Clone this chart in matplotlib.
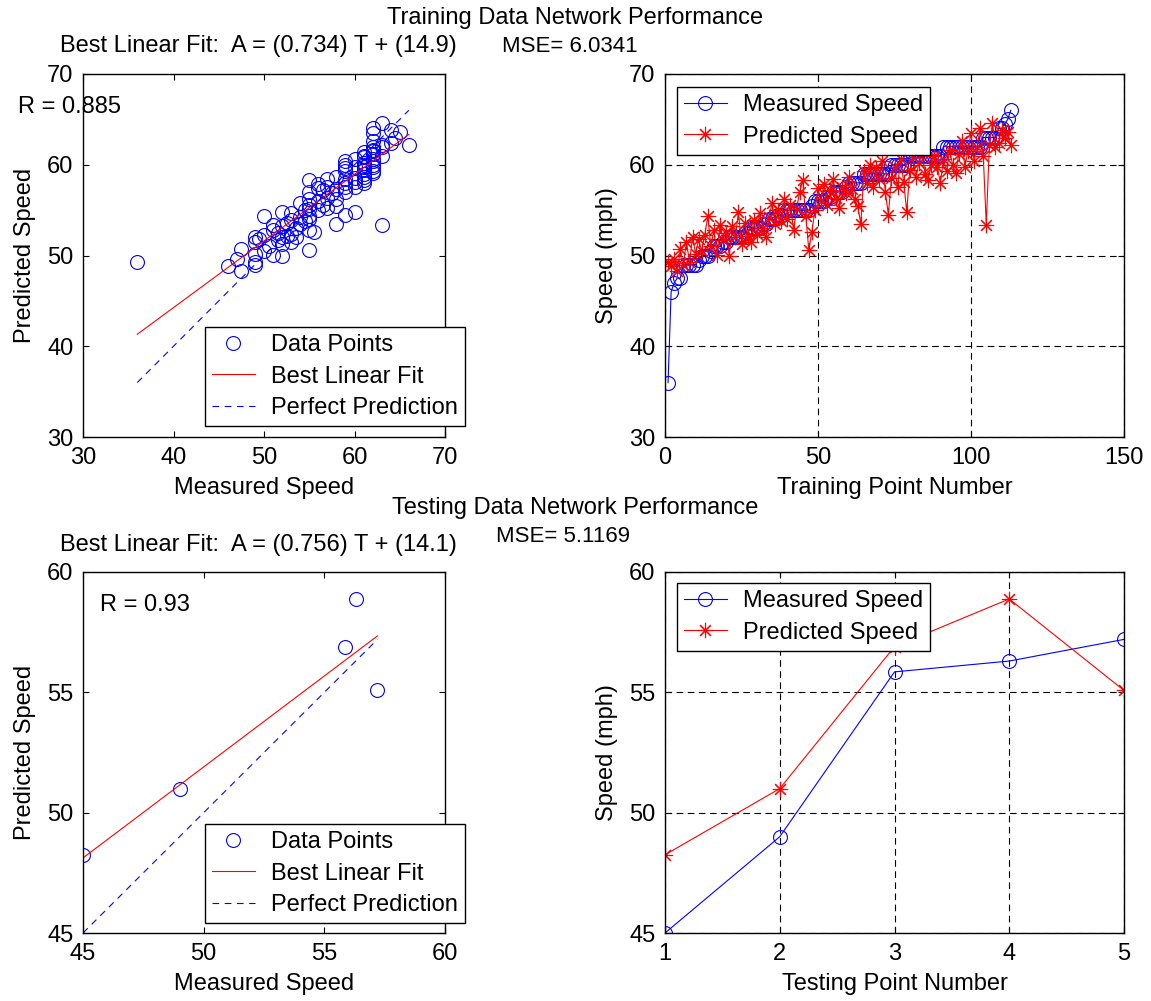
import matplotlib
matplotlib.use("Agg")
import matplotlib.pyplot as plt
import numpy as np

plt.rcParams['font.family'] = ['Liberation Sans', 'DejaVu Sans']
plt.rcParams['font.size'] = 17

# Training data (measured speed sorted, predicted speed from network)
train_measured = [
    36, 46, 47, 47.5, 47.5, 49, 49, 49, 49, 49,
    49.5, 50, 50, 50, 50.5, 51, 51, 51, 51.5, 51.5,
    52, 52, 52, 52, 52, 52.5, 52.5, 53, 53, 53,
    53, 53.5, 53.5, 54, 54, 54, 54.5, 54.5, 55, 55,
    55, 55, 55, 55, 55, 55, 55, 55.5, 56, 56,
    56, 56, 56.5, 56.5, 57, 57, 57, 57, 57.5, 58,
    58, 58, 58, 58, 59, 59, 59, 59, 59, 59,
    59, 59, 59, 60, 60, 60, 60, 60, 60, 61,
    61, 61, 61, 61, 61, 61, 61, 61, 61, 61,
    62, 62, 62, 62, 62, 62, 62, 62, 62, 62,
    62, 62, 62, 63, 63, 63, 63, 63, 64, 64,
    64.5, 65, 66,
]
train_predicted = [
    49.3, 48.8, 49.6, 48.3, 50.7, 49.0, 51.5, 49.3, 52.0, 50.2,
    51.8, 50.5, 52.3, 54.3, 51.0, 52.8, 50.1, 53.4, 51.7, 52.5,
    50.0, 53.2, 52.0, 54.8, 51.3, 53.6, 52.2, 51.5, 53.9, 52.4,
    54.7, 53.0, 52.0, 54.2, 55.8, 53.5, 55.0, 53.8, 56.2, 54.0,
    55.6, 52.8, 55.1, 57.0, 58.3, 54.4, 50.6, 52.6, 55.0, 57.4,
    56.0, 57.9, 55.6, 57.2, 58.4, 56.3, 55.2, 57.6, 56.9, 58.7,
    57.3, 56.2, 55.4, 53.5, 59.3, 58.0, 60.0, 57.5, 59.6, 58.4,
    60.4, 57.0, 54.5, 58.5, 59.7, 57.6, 60.6, 58.1, 54.8, 59.4,
    60.8, 58.6, 60.2, 61.4, 59.0, 58.3, 60.0, 61.0, 59.8, 58.0,
    60.6, 59.3, 61.6, 60.0, 59.1, 61.2, 62.6, 59.8, 61.5, 63.5,
    60.4, 62.0, 64.0, 61.0, 53.4, 62.2, 64.6, 62.0, 62.4, 63.8,
    63.0, 63.6, 62.2,
]
train_fit = (0.734, 14.9)

# Testing data
test_measured = [45.0, 49.0, 55.85, 56.3, 57.2]
test_predicted = [48.25, 51.0, 56.9, 58.88, 55.08]
test_fit = (0.756, 14.1)

W, H = 1151, 1001
fig = plt.figure(figsize=(W / 100, H / 100), dpi=100)


def fx(px):
    return px / W


def fy(py):
    return 1 - py / H


def style_axes(ax):
    ax.tick_params(direction='in', top=True, right=True, length=4, width=0.8, pad=7)
    for s in ax.spines.values():
        s.set_linewidth(1.0)


def legend_at(ax, handles_labels, px, py):
    h, l = handles_labels
    leg = ax.legend(h, l, loc='upper left', bbox_to_anchor=(fx(px), fy(py)),
                    bbox_transform=fig.transFigure, fancybox=False, framealpha=1,
                    edgecolor='black', handlelength=1.8, handletextpad=0.7,
                    labelspacing=0.4, borderpad=0.3, borderaxespad=0, fontsize=17)
    leg.get_frame().set_linewidth(1.0)
    return leg


def regression_panel(ax, T, A, fit, lims, ticks, legend_pos):
    T = np.array(T)
    A = np.array(A)
    hp, = ax.plot(T, A, 'o', color='blue', mfc='none', ms=10, mew=0.8)
    xs = np.array([T.min(), T.max()])
    hf, = ax.plot(xs, fit[0] * xs + fit[1], '-', color='red', lw=0.8)
    hd, = ax.plot(xs, xs, color='blue', lw=0.8, linestyle=(0, (6, 5)))
    ax.set_xlim(lims)
    ax.set_ylim(lims)
    ax.set_xticks(ticks)
    ax.set_yticks(ticks)
    ax.set_xlabel('Measured Speed', labelpad=6)
    ax.set_ylabel('Predicted Speed', labelpad=8)
    style_axes(ax)
    legend_at(ax, ([hp, hf, hd], ['Data Points', 'Best Linear Fit', 'Perfect Prediction']),
              *legend_pos)


def series_panel(ax, meas, pred, xlim, xticks, ylim, yticks, xlabel, legend_pos):
    idx = np.arange(1, len(meas) + 1)
    hm, = ax.plot(idx, meas, '-o', color='blue', mfc='none', ms=10, mew=0.8, lw=0.8)
    hp, = ax.plot(idx, pred, '-', color='red', marker=(8, 2, 0), ms=11, mew=0.8, lw=0.8)
    ax.set_xlim(xlim)
    ax.set_ylim(ylim)
    ax.set_xticks(xticks)
    ax.set_yticks(yticks)
    ax.grid(True, color='black', linestyle=(0, (6, 4)), linewidth=0.8)
    ax.set_xlabel(xlabel, labelpad=6)
    ax.set_ylabel('Speed (mph)', labelpad=8)
    style_axes(ax)
    legend_at(ax, ([hm, hp], ['Measured Speed', 'Predicted Speed']), *legend_pos)


# top row: training
ax1 = fig.add_axes([fx(83), fy(437), fx(445 - 83), (437 - 74) / H])
regression_panel(ax1, train_measured, train_predicted, train_fit, (30, 70),
                 [30, 40, 50, 60, 70], (205, 327))
ax2 = fig.add_axes([fx(665), fy(437), fx(1124 - 665), (437 - 74) / H])
series_panel(ax2, train_measured, train_predicted, (0, 150), [0, 50, 100, 150],
             (30, 70), [30, 40, 50, 60, 70], 'Training Point Number', (677, 87))

# bottom row: testing
ax3 = fig.add_axes([fx(83), fy(933), fx(445 - 83), (933 - 572) / H])
regression_panel(ax3, test_measured, test_predicted, test_fit, (45, 60),
                 [45, 50, 55, 60], (205, 824))
ax4 = fig.add_axes([fx(665), fy(933), fx(1124 - 665), (933 - 572) / H])
series_panel(ax4, test_measured, test_predicted, (1, 5), [1, 2, 3, 4, 5],
             (45, 60), [45, 50, 55, 60], 'Testing Point Number', (677, 583))

# figure texts
fig.text(0.5, fy(18), 'Training Data Network Performance', ha='center', va='center', fontsize=17)
fig.text(fx(60), fy(46), 'Best Linear Fit:  A = (%.3f) T + (%.1f)' % train_fit,
         ha='left', va='center', fontsize=17)
fig.text(fx(502), fy(46), 'MSE= 6.0341', ha='left', va='center', fontsize=16)
fig.text(fx(18), fy(107), 'R = 0.885', ha='left', va='center', fontsize=17)

fig.text(0.5, fy(508), 'Testing Data Network Performance', ha='center', va='center', fontsize=17)
fig.text(fx(496), fy(537), 'MSE= 5.1169', ha='left', va='center', fontsize=16)
fig.text(fx(60), fy(545), 'Best Linear Fit:  A = (%.3f) T + (%.1f)' % test_fit,
         ha='left', va='center', fontsize=17)
fig.text(fx(100), fy(605), 'R = 0.93', ha='left', va='center', fontsize=17)

fig.savefig('out.png', dpi=100)
